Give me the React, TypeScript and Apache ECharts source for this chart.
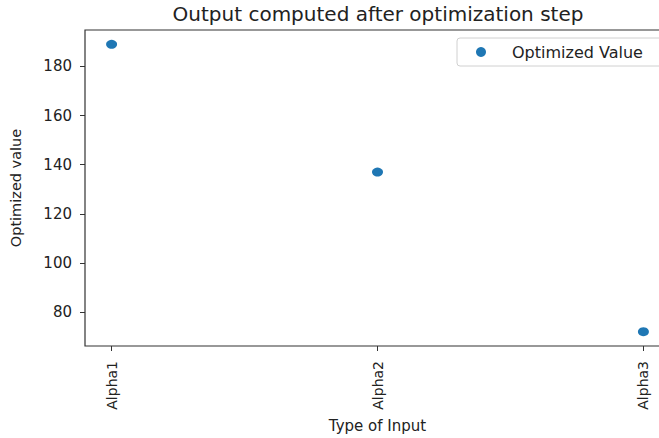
import React, { useEffect, useRef } from "react";
import * as echarts from "echarts";

// Categories on the x axis and the optimized value for each
const categories: string[] = ["Alpha1", "Alpha2", "Alpha3"];
const optimizedValues: number[] = [189, 137, 72];
const yTicks: number[] = [80, 100, 120, 140, 160, 180];

const FONT = "DejaVu Sans";
const BLUE = "#1f77b4";

export default function App() {
  const ref = useRef<HTMLDivElement>(null);

  useEffect(() => {
    if (!ref.current) return;
    const chart = echarts.init(ref.current, undefined, { renderer: "svg" });

    // matplotlib-style 5% margins around the data
    const lo = Math.min(...optimizedValues);
    const hi = Math.max(...optimizedValues);
    const pad = (hi - lo) * 0.05;
    const xPad = (categories.length - 1) * 0.05;
    const idx = categories.map((_, i) => i);

    chart.setOption({
      animation: false,
      backgroundColor: "#ffffff",
      textStyle: { fontFamily: FONT },
      grid: {
        left: 85,
        top: 30,
        width: 585,
        height: 319,
        show: true,
        borderColor: "#333",
        borderWidth: 1.2,
        backgroundColor: "transparent",
      },
      graphic: [
        {
          type: "text",
          x: 378,
          y: 4,
          style: {
            text: "Output computed after optimization step",
            font: `20px "${FONT}"`,
            fill: "#222",
            textAlign: "center",
            textVerticalAlign: "top",
          },
        },
      ],
      legend: {
        left: 457,
        top: 38,
        orient: "vertical",
        icon: "circle",
        itemWidth: 10,
        itemHeight: 10,
        padding: [6, 20, 6, 19],
        borderColor: "#d0d0d0",
        borderWidth: 1,
        borderRadius: 3,
        backgroundColor: "#fff",
        textStyle: {
          fontFamily: FONT,
          fontSize: 16,
          color: "#222",
          padding: [0, 0, 0, 21],
        },
        data: ["Optimized Value"],
      },
      xAxis: {
        type: "value",
        min: -xPad,
        max: categories.length - 1 + xPad,
        name: "Type of Input",
        nameLocation: "middle",
        nameGap: 72,
        nameTextStyle: { fontFamily: FONT, fontSize: 15, color: "#222" },
        axisLine: { show: false, onZero: false },
        splitLine: { show: false },
        axisTick: {
          show: true,
          customValues: idx,
          length: 5,
          lineStyle: { color: "#333" },
        },
        axisLabel: {
          customValues: idx,
          rotate: 90,
          margin: 15,
          fontFamily: FONT,
          fontSize: 14,
          color: "#222",
          formatter: (v: number) => categories[Math.round(v)] ?? "",
        },
      },
      yAxis: {
        type: "value",
        min: lo - pad,
        max: hi + pad,
        name: "Optimized value",
        nameLocation: "middle",
        nameGap: 62,
        nameRotate: 90,
        nameTextStyle: { fontFamily: FONT, fontSize: 14.5, color: "#222" },
        axisLine: { show: false, onZero: false },
        splitLine: { show: false },
        axisTick: {
          show: true,
          customValues: yTicks,
          length: 5,
          lineStyle: { color: "#333" },
        },
        axisLabel: {
          customValues: yTicks,
          margin: 13,
          fontFamily: FONT,
          fontSize: 15,
          color: "#222",
        },
      },
      series: [
        {
          name: "Optimized Value",
          type: "scatter",
          symbol: "circle",
          symbolSize: [11, 9],
          itemStyle: { color: BLUE, opacity: 1 },
          data: optimizedValues.map((v, i) => [i, v]),
        },
      ],
    });

    return () => chart.dispose();
  }, []);

  return (
    <div
      style={{
        position: "fixed",
        left: 0,
        top: 0,
        width: 659,
        height: 438,
        overflow: "hidden",
        background: "#fff",
      }}
    >
      <div ref={ref} style={{ width: 680, height: 438 }} />
    </div>
  );
}
